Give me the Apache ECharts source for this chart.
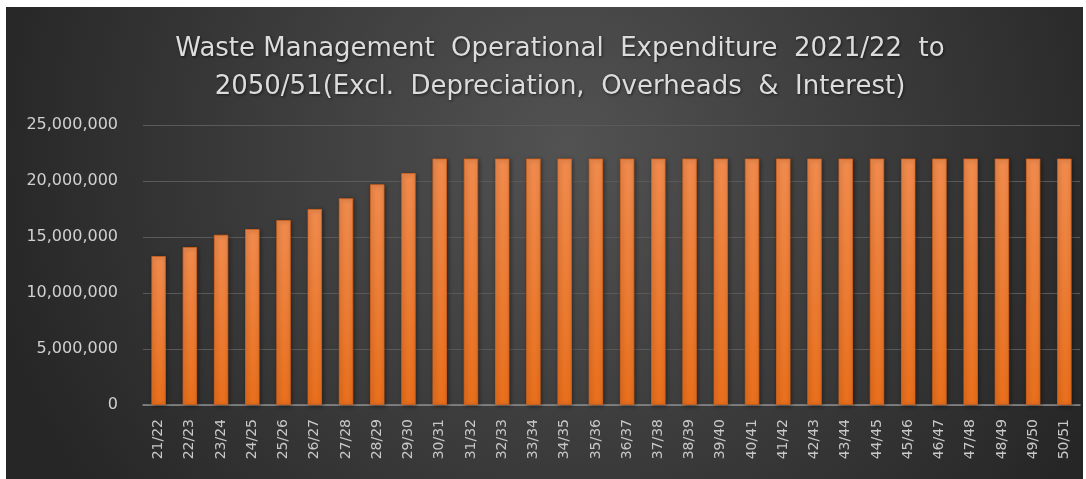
<!DOCTYPE html>
<html>
<head>
<meta charset="utf-8">
<script src="https://cdn.jsdelivr.net/npm/echarts@6/dist/echarts.min.js"></script>
<style>
  html, body { margin: 0; padding: 0; background: #ffffff; }
  #chart { position: absolute; left: 6px; top: 7px; width: 1077px; height: 472px; }
</style>
</head>
<body>
<div id="chart"></div>
<script>
// Financial years shown on the category axis
const years = [
  '21/22','22/23','23/24','24/25','25/26','26/27','27/28','28/29','29/30','30/31',
  '31/32','32/33','33/34','34/35','35/36','36/37','37/38','38/39','39/40','40/41',
  '41/42','42/43','43/44','44/45','45/46','46/47','47/48','48/49','49/50','50/51'
];

// Operational expenditure per year (excl. depreciation, overheads & interest)
const expenditure = [
  13300000, 14100000, 15200000, 15700000, 16500000, 17500000, 18450000, 19700000, 20700000, 22000000,
  22000000, 22000000, 22000000, 22000000, 22000000, 22000000, 22000000, 22000000, 22000000, 22000000,
  22000000, 22000000, 22000000, 22000000, 22000000, 22000000, 22000000, 22000000, 22000000, 22000000
];

// Value axis ticks
const yMin = 0;
const yMax = 25000000;
const yStep = 5000000;

const titleLines = [
  'Waste Management  Operational  Expenditure  2021/22  to',
  '2050/51(Excl.  Depreciation,  Overheads  &  Interest)'
];

const chart = echarts.init(document.getElementById('chart'), null, { renderer: 'canvas' });

chart.setOption({
  backgroundColor: {
    type: 'radial', x: 0.52, y: 0.3, r: 1.25,
    colorStops: [
      { offset: 0, color: '#525252' },
      { offset: 0.55, color: '#3a3a3a' },
      { offset: 1, color: '#262626' }
    ]
  },
  animation: false,
  title: {
    text: titleLines.join('\n'),
    left: 549,
    top: 18,
    textAlign: 'center',
    textStyle: {
      color: '#dcdcdc',
      fontFamily: 'DejaVu Sans',
      fontWeight: 'normal',
      fontSize: 26,
      lineHeight: 38,
      textShadowColor: 'rgba(0,0,0,0.6)',
      textShadowBlur: 3,
      textShadowOffsetX: 1,
      textShadowOffsetY: 1
    }
  },
  grid: { left: 137, right: 3, top: 118, bottom: 74, containLabel: false },
  xAxis: {
    type: 'category',
    data: years,
    axisLine: { lineStyle: { color: '#8c8c8c', width: 1.5 } },
    axisTick: { show: false },
    axisLabel: {
      rotate: 90,
      interval: 0,
      margin: 14,
      color: '#c8c8c8',
      fontFamily: 'DejaVu Sans',
      fontSize: 14
    }
  },
  yAxis: {
    type: 'value',
    min: yMin,
    max: yMax,
    interval: yStep,
    axisLine: { show: false },
    axisTick: { show: false },
    splitLine: { lineStyle: { color: '#5a5a5a', width: 1 } },
    axisLabel: {
      margin: 25,
      color: '#d0d0d0',
      fontFamily: 'DejaVu Sans',
      fontSize: 16,
      formatter: v => v.toLocaleString('en-US')
    }
  },
  series: [{
    type: 'bar',
    data: expenditure,
    barWidth: '46%',
    itemStyle: {
      color: {
        type: 'linear', x: 0, y: 0, x2: 0, y2: 1,
        colorStops: [
          { offset: 0, color: '#f08b4e' },
          { offset: 1, color: '#e86f1c' }
        ]
      },
      borderColor: '#d9631a',
      borderWidth: 0.8,
      shadowColor: 'rgba(0,0,0,0.45)',
      shadowBlur: 4,
      shadowOffsetX: 1,
      shadowOffsetY: 1
    }
  }]
});
</script>
</body>
</html>
